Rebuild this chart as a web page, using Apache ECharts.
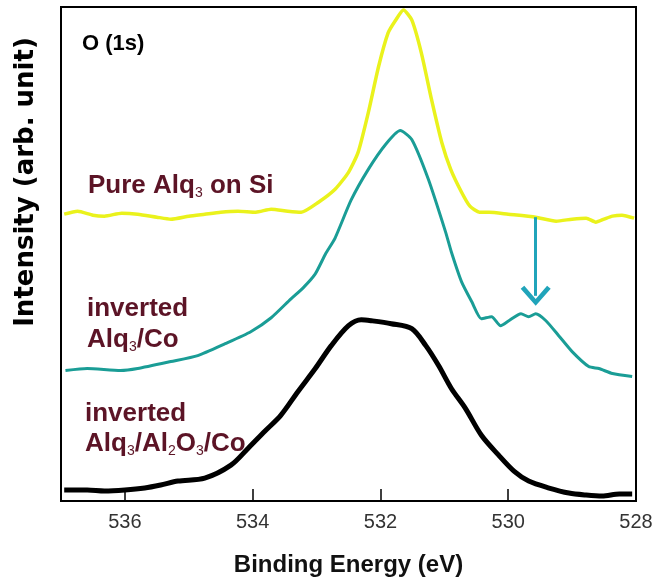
<!DOCTYPE html>
<html>
<head>
<meta charset="utf-8">
<script src="https://cdn.jsdelivr.net/npm/echarts@6/dist/echarts.min.js"></script>
<style>
  html, body { margin: 0; padding: 0; background: #fff; }
  #main { width: 665px; height: 582px; }
</style>
</head>
<body>
<div id="main"></div>
<script>
// binding energy (eV) / intensity (arb. unit)
var pureAlq = [
    [536.95, 288], [536.74, 291], [536.50, 287], [536.32, 286], [536.05, 289],
    [535.80, 288], [535.50, 285], [535.28, 283], [535.00, 286], [534.75, 288],
    [534.50, 290], [534.23, 291], [533.95, 290], [533.71, 293], [533.45, 291],
    [533.24, 290], [532.97, 300], [532.71, 313], [532.50, 330], [532.35, 350],
    [532.19, 390], [532.03, 436], [531.88, 470], [531.76, 483], [531.64, 493],
    [531.51, 483], [531.36, 450], [531.20, 403], [531.04, 360], [530.90, 333],
    [530.73, 310], [530.60, 296], [530.45, 290], [530.30, 290], [530.00, 288],
    [529.57, 285], [529.25, 281], [529.00, 283], [528.78, 284], [528.63, 280],
    [528.50, 283], [528.37, 286], [528.22, 287], [528.03, 284]
];
var invAlqCo = [
    [536.93, 131], [536.59, 133], [536.07, 131], [535.80, 133], [535.28, 140],
    [534.86, 146], [534.43, 158], [534.03, 170], [533.71, 184], [533.40, 203],
    [533.21, 214], [533.02, 228], [532.86, 248], [532.71, 264], [532.46, 302],
    [532.19, 333], [531.92, 358], [531.69, 372], [531.51, 363], [531.25, 323],
    [530.98, 270], [530.89, 250], [530.73, 220], [530.57, 200], [530.42, 183],
    [530.26, 185], [530.12, 176], [529.99, 181], [529.80, 188], [529.68, 185],
    [529.57, 188], [529.41, 181], [529.21, 166], [529.00, 150], [528.74, 135],
    [528.58, 133], [528.37, 128], [528.06, 125]
];
var invAlqAlOCo = [
    [536.95, 11], [536.59, 11], [536.32, 10], [536.00, 11], [535.69, 13],
    [535.44, 16], [535.17, 20], [534.75, 23], [534.34, 36], [534.07, 53],
    [533.81, 70], [533.56, 86], [533.29, 110], [533.02, 133], [532.77, 156],
    [532.50, 176], [532.30, 182], [532.14, 181], [531.83, 178], [531.51, 173],
    [531.29, 156], [531.09, 136], [530.89, 113], [530.67, 93], [530.42, 66],
    [530.15, 46], [529.91, 30], [529.68, 20], [529.36, 13], [529.05, 8],
    [528.78, 6], [528.53, 5], [528.26, 7], [528.06, 7]
];
var xTicks = [536, 534, 532, 530, 528];
var arrowAt = [[529.57, 285], [529.57, 206]];   // arrow from yellow down toward the teal shoulder

var labelColor = '#5c1426';
var chart = echarts.init(document.getElementById('main'));

function rich(lh) {
    return {
        m: { fill: labelColor, fontSize: 26, fontWeight: 'bold', fontFamily: '"Liberation Sans", Arial', lineHeight: lh },
        s: { fill: labelColor, fontSize: 14, fontFamily: '"Liberation Sans", Arial', lineHeight: lh, padding: [14, 0, 0, 0] }
    };
}

var option = {
    animation: false,
    grid: {
        left: 61, right: 29, top: 7, bottom: 79,
        show: true, borderColor: '#000', borderWidth: 2
    },
    xAxis: {
        type: 'value',
        min: 528, max: 537,
        inverse: true,
        interval: 1,
        axisLine: { lineStyle: { color: '#000', width: 2 } },
        axisTick: { inside: true, length: 12, lineStyle: { color: '#000', width: 1.5 },
            customValues: xTicks },
        axisLabel: {
            customValues: xTicks,
            color: '#333', fontSize: 20, margin: 11,
            fontFamily: '"Liberation Sans", Arial'
        },
        splitLine: { show: false },
        name: 'Binding Energy (eV)',
        nameLocation: 'middle',
        nameGap: 52,
        nameTextStyle: { color: '#111', fontSize: 24, fontWeight: 'bold',
            fontFamily: '"Liberation Sans", Arial' }
    },
    yAxis: {
        type: 'value',
        min: 0, max: 496,
        axisLine: { show: false },
        axisTick: { show: false },
        axisLabel: { show: false },
        splitLine: { show: false }
    },
    series: [
        {
            name: 'Pure Alq3 on Si',
            type: 'line', showSymbol: false, smooth: 0.2,
            lineStyle: { color: '#eaf21c', width: 3.5 },
            data: pureAlq,
            markLine: {
                silent: true,
                symbol: ['none', 'path://M5,0 L10,6 L8.8,7 L5,2.4 L1.2,7 L0,6 Z'],
                symbolSize: [30, 20],
                lineStyle: { color: '#20a4ba', width: 3, type: 'solid' },
                label: { show: false },
                data: [[{ coord: arrowAt[0] }, { coord: arrowAt[1] }]]
            }
        },
        {
            name: 'inverted Alq3/Co',
            type: 'line', showSymbol: false, smooth: 0.2,
            lineStyle: { color: '#1a9d96', width: 3 },
            data: invAlqCo
        },
        {
            name: 'inverted Alq3/Al2O3/Co',
            type: 'line', showSymbol: false, smooth: 0.3,
            lineStyle: { color: '#000', width: 5 },
            data: invAlqAlOCo
        }
    ],
    graphic: [
        {
            type: 'text', left: 82, top: 33,
            style: { text: 'O (1s)', fill: '#000', font: 'bold 22px "Liberation Sans", Arial' }
        },
        {
            type: 'text', x: 26, y: 182, rotation: Math.PI / 2,
            style: { text: 'Intensity (arb. unit)', fill: '#000',
                font: 'bold 26px "DejaVu Sans", "Liberation Sans", Arial',
                align: 'center', verticalAlign: 'middle' }
        },
        {
            type: 'text', left: 88, top: 172,
            style: { text: '{m|Pure Alq}{s|3}{m| on Si}', rich: rich(30) }
        },
        {
            type: 'text', left: 87, top: 296,
            style: { text: '{m|inverted}\n{m|Alq}{s|3}{m|/Co}', rich: rich(31) }
        },
        {
            type: 'text', left: 85, top: 401,
            style: { text: '{m|inverted}\n{m|Alq}{s|3}{m|/Al}{s|2}{m|O}{s|3}{m|/Co}', rich: rich(30) }
        }
    ]
};
chart.setOption(option);
</script>
</body>
</html>
